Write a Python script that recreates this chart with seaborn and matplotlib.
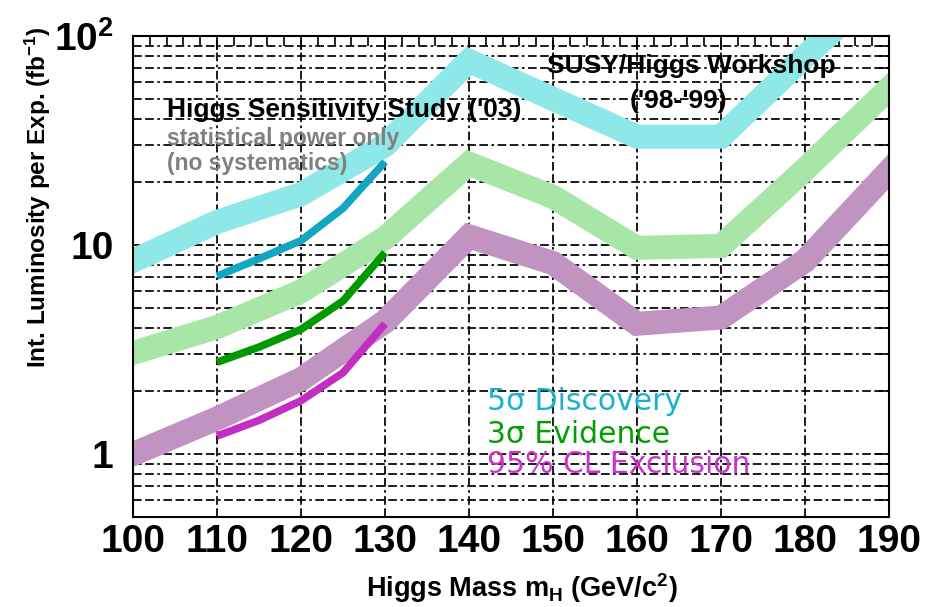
import numpy as np
import pandas as pd
import matplotlib
matplotlib.use("Agg")
import matplotlib.pyplot as plt
import seaborn as sns
from matplotlib import font_manager
from matplotlib.ticker import FixedLocator, FixedFormatter, MultipleLocator, LogLocator, NullFormatter

# ---------------- data ----------------
mass_band = [100, 110, 120, 130, 140, 150, 160, 170, 180, 190]
discovery_5sigma = [8.4, 12.9, 17.5, 30, 76, 50, 33, 33, 80, 185]
evidence_3sigma = [3.05, 4.05, 6.0, 10.8, 24.5, 17, 9.7, 9.9, 23, 56]
exclusion_95cl = [1.0, 1.48, 2.28, 4.3, 11, 8.2, 4.2, 4.5, 8.4, 22.6]

mass_study = [110, 115, 120, 125, 130]
study_discovery = [7.1, 8.6, 10.5, 15, 25]
study_evidence = [2.75, 3.25, 3.95, 5.4, 9.2]
study_exclusion = [1.22, 1.45, 1.8, 2.45, 4.2]

x_tick_values = [100, 110, 120, 130, 140, 150, 160, 170, 180, 190]
y_tick_values = [1, 10, 100]
y_tick_labels = ["1", "10", r"10$^{\mathregular{2}}$"]

# ---------------- style ----------------
sns.set_style("white")
names = {f.name for f in font_manager.fontManager.ttflist}
narrow = None
for cand in ["Liberation Sans Narrow", "DejaVu Sans Condensed"]:
    if cand in names:
        narrow = cand
        break
tick_family = narrow if narrow else "Liberation Sans"
plt.rcParams["font.family"] = ["Liberation Sans", "DejaVu Sans"]
plt.rcParams["mathtext.default"] = "regular"
for k in ["text.color", "axes.labelcolor", "xtick.color", "ytick.color", "axes.edgecolor"]:
    plt.rcParams[k] = "black"

fig = plt.figure(figsize=(9.36, 6.07), dpi=100)
ax = fig.add_axes([133 / 936, 1 - 517 / 607, 756 / 936, 481 / 607])
ax.set_yscale("log")

band_df = pd.DataFrame({"mass": mass_band, "disc": discovery_5sigma,
                        "evid": evidence_3sigma, "excl": exclusion_95cl})
study_df = pd.DataFrame({"mass": mass_study, "disc": study_discovery,
                         "evid": study_evidence, "excl": study_exclusion})

band_colors = {"disc": "#8fe8e8", "evid": "#a8e6a8", "excl": "#c093c0"}
thin_colors = {"disc": "#12a6c2", "evid": "#009a00", "excl": "#c22ec2"}

for key in ["disc", "evid", "excl"]:
    sns.lineplot(data=band_df, x="mass", y=key, ax=ax, color=band_colors[key],
                 linewidth=17.3, solid_joinstyle="miter", solid_capstyle="projecting",
                 zorder=2)
for key in ["disc", "evid", "excl"]:
    sns.lineplot(data=study_df, x="mass", y=key, ax=ax, color=thin_colors[key],
                 linewidth=5.5, solid_joinstyle="round", solid_capstyle="butt",
                 zorder=3)

ax.set_xlim(100, 190)
ax.set_ylim(0.5, 100)

# ticks
ax.xaxis.set_major_locator(FixedLocator(x_tick_values))
ax.xaxis.set_minor_locator(MultipleLocator(2))
ax.yaxis.set_major_locator(FixedLocator(y_tick_values))
ax.yaxis.set_major_formatter(FixedFormatter(y_tick_labels))
ax.yaxis.set_minor_locator(LogLocator(base=10, subs=np.arange(2, 10)))
ax.yaxis.set_minor_formatter(NullFormatter())
ax.tick_params(which="both", direction="in", top=True, right=True, width=1.2,
               color="black", labelcolor="black")
ax.tick_params(which="major", length=10)
ax.tick_params(which="minor", length=7)
ax.tick_params(axis="x", which="major", pad=5)
ax.tick_params(axis="y", which="major", pad=14)
for lab in ax.get_xticklabels() + ax.get_yticklabels():
    lab.set_fontfamily(tick_family)
    lab.set_fontweight("bold")
    lab.set_fontsize(28)

# grid
dash = (0, (5, 2, 5, 2, 1.5, 2))
ax.grid(which="major", axis="x", color="black", linewidth=1.25, linestyle=dash)
ax.grid(which="both", axis="y", color="black", linewidth=1.25, linestyle=dash)
ax.set_axisbelow(True)

for sp in ax.spines.values():
    sp.set_linewidth(1.5)
    sp.set_color("black")

ax.set_xlabel(r"Higgs Mass m$_{\mathregular{H}}$ (GeV/c$^{\mathregular{2}}$)",
              fontsize=19.5, fontweight="bold")
ax.xaxis.set_label_coords(0.515, -0.112)
ax.set_ylabel(r"Int. Luminosity per Exp. (fb$^{\mathregular{-1}}$)",
              fontsize=17.5, fontweight="bold")
ax.yaxis.set_label_coords(-0.106, 0.664)

# annotations
ax.text(0.045, 0.832, "Higgs Sensitivity Study ('03)", transform=ax.transAxes,
        fontsize=19, fontweight="bold", color="black", va="baseline", ha="left", zorder=4)
ax.text(0.045, 0.773, "statistical power only", transform=ax.transAxes,
        fontsize=16.5, fontweight="bold", color="#808080", va="baseline", ha="left", zorder=4)
ax.text(0.045, 0.721, "(no systematics)", transform=ax.transAxes,
        fontsize=16.5, fontweight="bold", color="#808080", va="baseline", ha="left", zorder=4)
ax.text(0.738, 0.923, "SUSY/Higgs Workshop", transform=ax.transAxes,
        fontsize=19, fontweight="bold", color="black", va="baseline", ha="center", zorder=4)
ax.text(0.722, 0.850, "('98-'99)", transform=ax.transAxes,
        fontsize=19, fontweight="bold", color="black", va="baseline", ha="center", zorder=4)

ax.text(0.468, 0.2225, "5σ Discovery", transform=ax.transAxes, family="DejaVu Sans",
        fontsize=21.5, color="#1ab0d0", va="baseline", ha="left", zorder=4)
ax.text(0.468, 0.154, "3σ Evidence", transform=ax.transAxes, family="DejaVu Sans",
        fontsize=21.5, color="#00a000", va="baseline", ha="left", zorder=4)
ax.text(0.468, 0.0915, "95% CL Exclusion", transform=ax.transAxes, family="DejaVu Sans",
        fontsize=21.5, color="#cc33cc", va="baseline", ha="left", zorder=4)

fig.savefig("out.png", dpi=100)
